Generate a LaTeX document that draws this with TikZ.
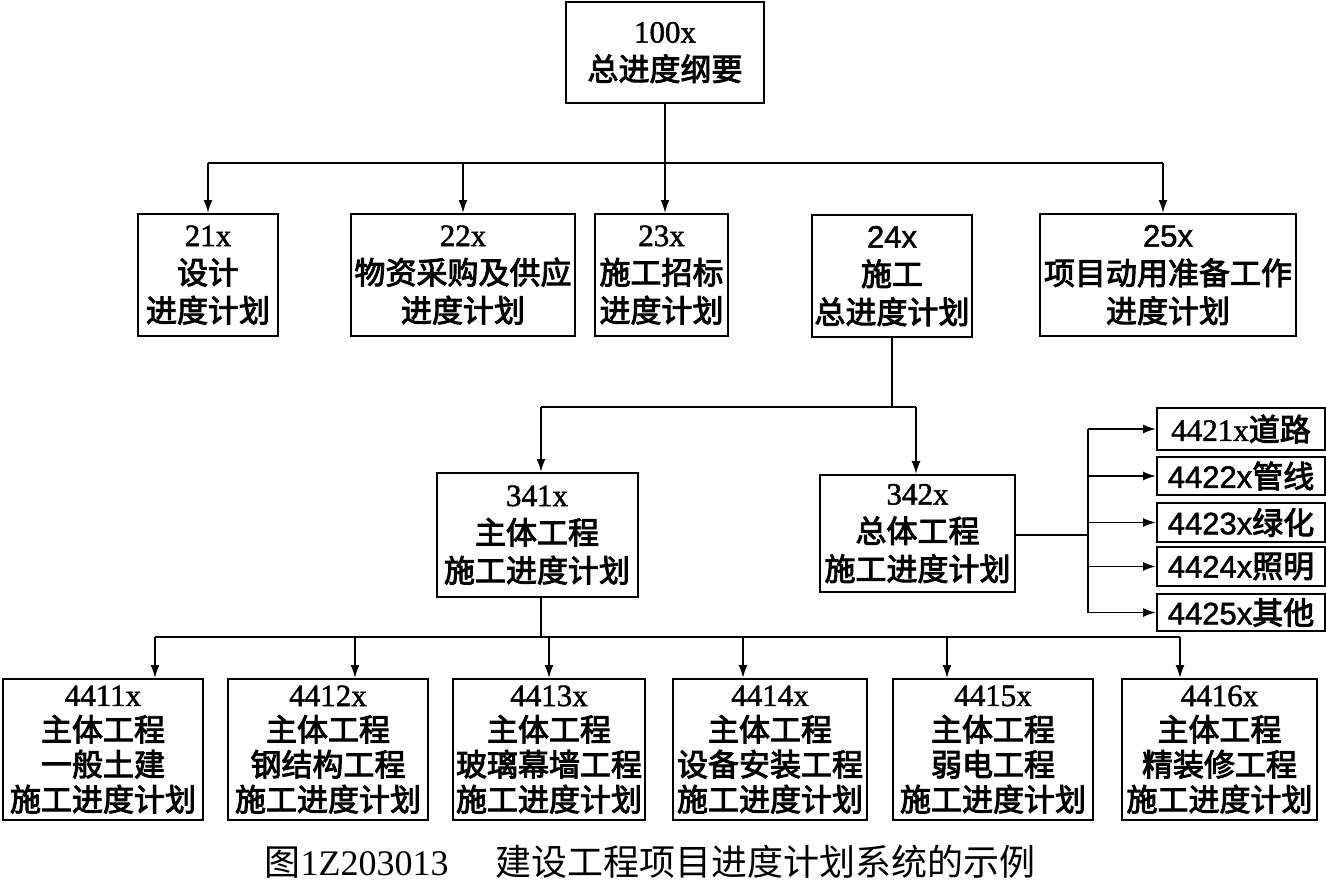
\documentclass[tikz,border=0pt]{standalone}
\usepackage{fontspec}
\setmainfont{Liberation Serif}
\newfontfamily\zh[FakeBold=3]{Noto Sans CJK SC}
\newfontfamily\zhcap{Noto Sans CJK SC}
\newfontfamily\lsans[FakeBold=1.5]{Liberation Sans}
\newfontfamily\lserif[FakeBold=1.5]{Liberation Serif}
\usetikzlibrary{arrows.meta}
\newcommand{\nm}[1]{{\lserif #1}}
\newcommand{\ns}[1]{{\lsans #1}}
\tikzset{
  bx/.style={draw, line width=2pt, align=center, inner sep=0pt, font=\fontsize{31}{38}\selectfont\zh},
  bxb/.style={bx, font=\fontsize{31}{35}\selectfont\zh},
  ln/.style={line width=1.8pt},
  arr/.style={ln, -{Latex[length=13pt,width=9pt]}},
}
\begin{document}
\begin{tikzpicture}[x=1pt,y=-1pt]
\fill[white] (0,0) rectangle (1326,891);
\useasboundingbox (0,0) rectangle (1326,891);
% level 1
\node[bx, minimum width=198, minimum height=101] (n100) at (665,52.5) {\nm{100x}\\总进度纲要};
% level 2
\node[bx, minimum width=140, minimum height=122] (n21) at (208,275) {\nm{21x}\\设计\\进度计划};
\node[bx, minimum width=224, minimum height=122] (n22) at (463,275) {\nm{22x}\\物资采购及供应\\进度计划};
\node[bx, minimum width=133, minimum height=122] (n23) at (661.5,275) {\nm{23x}\\施工招标\\进度计划};
\node[bx, minimum width=160, minimum height=122] (n24) at (892,276) {\ns{24x}\\施工\\总进度计划};
\node[bx, minimum width=256, minimum height=122] (n25) at (1168,275) {\ns{25x}\\项目动用准备工作\\进度计划};
% level 3
\node[bx, minimum width=201, minimum height=124] (n341) at (537,535) {\nm{341x}\\主体工程\\施工进度计划};
\node[bx, minimum width=195, minimum height=117] (n342) at (917.5,533.5) {\nm{342x}\\总体工程\\施工进度计划};
% small boxes
\node[bx, minimum width=168, minimum height=42] (s1) at (1241,429) {\nm{4421x}道路};
\node[bx, minimum width=168, minimum height=38] (s2) at (1241,476) {\ns{4422x}管线};
\node[bx, minimum width=168, minimum height=39] (s3) at (1241,522.5) {\ns{4423x}绿化};
\node[bx, minimum width=168, minimum height=39] (s4) at (1241,566.5) {\ns{4424x}照明};
\node[bx, minimum width=168, minimum height=37] (s5) at (1241,612.5) {\ns{4425x}其他};
% level 4
\node[bxb, minimum width=200, minimum height=141] (r1) at (103,749.5) {\nm{4411x}\\主体工程\\一般土建\\施工进度计划};
\node[bxb, minimum width=200, minimum height=141] (r2) at (328,749.5) {\nm{4412x}\\主体工程\\钢结构工程\\施工进度计划};
\node[bxb, minimum width=192, minimum height=141] (r3) at (549,749.5) {\nm{4413x}\\主体工程\\玻璃幕墙工程\\施工进度计划};
\node[bxb, minimum width=194, minimum height=141] (r4) at (770,749.5) {\nm{4414x}\\主体工程\\设备安装工程\\施工进度计划};
\node[bxb, minimum width=200, minimum height=141] (r5) at (993,749.5) {\nm{4415x}\\主体工程\\弱电工程\\施工进度计划};
\node[bxb, minimum width=195, minimum height=141] (r6) at (1219.5,749.5) {\nm{4416x}\\主体工程\\精装修工程\\施工进度计划};
% caption
\node[font=\fontsize{36}{40}\selectfont\zhcap] (cap) at (650,862) {图{\rmfamily 1Z203013}\hspace{1.3em}建设工程项目进度计划系统的示例};
% connectors level 1 -> 2
\coordinate (t1) at (665,163);
\coordinate (t21) at (208,163);
\coordinate (t22) at (463,163);
\coordinate (t25) at (1163,163);
\draw[ln] (n100.south) -- (t1);
\draw[ln] (t21) -- (t25);
\draw[arr] (t21) -- (t21 |- n21.north);
\draw[arr] (t22) -- (t22 |- n22.north);
\draw[arr] (t1) -- (t1 |- n23.north);
\draw[arr] (t25) -- (t25 |- n25.north);
% 24x -> 341x, 342x
\coordinate (m1) at (892,407);
\coordinate (m341) at (541,407);
\coordinate (m342) at (916,407);
\draw[ln] (n24.south) -- (m1);
\draw[ln] (m341) -- (m342);
\draw[arr] (m341) -- (m341 |- n341.north);
\draw[arr] (m342) -- (m342 |- n342.north);
% 342x -> small boxes
\coordinate (v0) at (1088,535);
\draw[ln] (n342.east |- v0) -- (v0);
\draw[ln] (s1.west -| v0) -- (s5.west -| v0);
\foreach \s in {s1,s2,s3,s4,s5} \draw[arr] (\s.west -| v0) -- (\s.west);
% 341x -> level 4
\coordinate (p0) at (541,637);
\coordinate (p1) at (155,637);
\coordinate (p2) at (355,637);
\coordinate (p3) at (549,637);
\coordinate (p4) at (743,637);
\coordinate (p5) at (947,637);
\coordinate (p6) at (1180,637);
\draw[ln] (p0 |- n341.south) -- (p0);
\draw[ln] (p1) -- (p6);
\draw[arr] (p1) -- (p1 |- r1.north);
\draw[arr] (p2) -- (p2 |- r2.north);
\draw[arr] (p3) -- (p3 |- r3.north);
\draw[arr] (p4) -- (p4 |- r4.north);
\draw[arr] (p5) -- (p5 |- r5.north);
\draw[arr] (p6) -- (p6 |- r6.north);
\end{tikzpicture}
\end{document}
